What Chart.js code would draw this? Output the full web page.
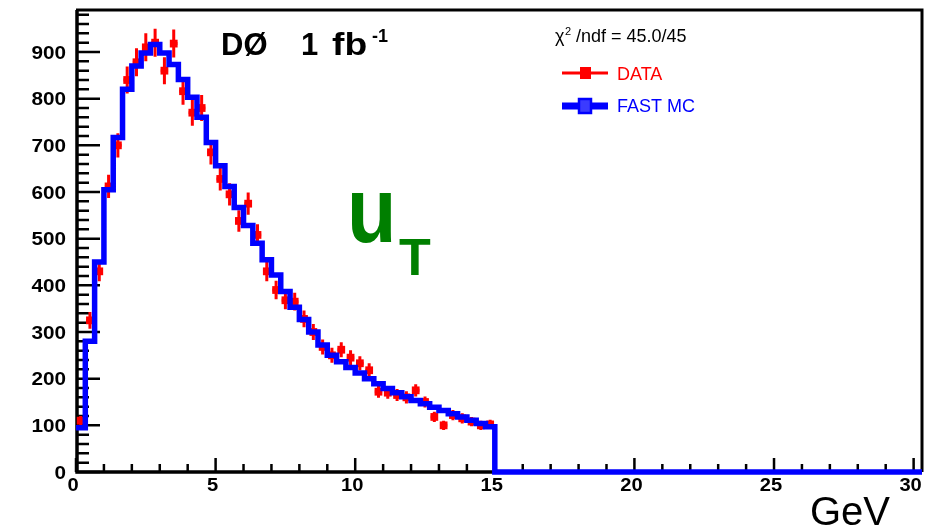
<!DOCTYPE html>
<html>
<head>
<meta charset="utf-8">
<script src="https://cdn.jsdelivr.net/npm/chart.js@4"></script>
<style>
	body { margin: 0; background: #fff; }
	#wrap { width: 935px; height: 529px; }
</style>
</head>
<body>
<div id="wrap"><canvas id="chart" width="935" height="529"></canvas></div>
<script>
// histogram binning: 45 bins of 1/3 GeV from 0 to 15 GeV
const binWidth = 1 / 3;
const histEnd = 15;

// FAST MC prediction, one value per bin
const mcCounts = [95, 280, 450, 605, 717, 820, 870, 898, 916, 898, 873, 841, 803, 760, 706,
	656, 612, 567, 528, 490, 455, 422, 387, 353, 327, 300, 272, 250, 236, 224,
	212, 200, 189, 179, 170, 161, 153, 146, 139, 132, 125, 118, 111, 104, 97];

// DATA, one value per bin, with its error bar half-length
const dataCounts = [110, 325, 430, 612, 700, 840, 878, 910, 920, 860, 918, 816, 770, 780, 685,
	628, 595, 538, 575, 508, 430, 390, 368, 365, 328, 300, 268, 250, 262, 245,
	233, 218, 172, 170, 165, 160, 175, 150, 118, 100, 122, 115, 108, 100, 102];
const dataErrors = [10, 18, 21, 25, 26, 29, 30, 30, 30, 29, 30, 29, 28, 28, 26,
	25, 24, 23, 24, 23, 21, 20, 19, 19, 18, 17, 16, 16, 16, 16,
	15, 15, 13, 13, 13, 13, 13, 12, 11, 10, 11, 11, 10, 10, 10];

const xRange = [0, 30.3];
const yRange = [0, 990];
const xTicks = [0, 5, 10, 15, 20, 25, 30];
const yTicks = [0, 100, 200, 300, 400, 500, 600, 700, 800, 900];
const xMinorStep = 1;
const yMinorStep = 20;

const seriesNames = ['DATA', 'FAST MC'];
const fitLabel = ['χ', '2', '/ndf = 45.0/45'];
const titleParts = ['DØ', '1', 'fb', '-1'];
const varParts = ['u', 'T'];
const xTitle = 'GeV';

const RED = '#ff0000';
const BLUE = '#0000ff';
const GREEN = '#007f00';
const FONT = '"Liberation Sans", Arial, Helvetica, sans-serif';

function drawText(ctx, str, x, y, font, color, align, sx) {
	ctx.save();
	ctx.font = font;
	ctx.fillStyle = color;
	ctx.textAlign = align || 'left';
	ctx.textBaseline = 'alphabetic';
	ctx.translate(x, y);
	ctx.scale(sx || 1, 1);
	ctx.fillText(str, 0, 0);
	ctx.restore();
}

// frame, inward ticks and error bars (under the datasets)
const axisFrame = {
	id: 'axisFrame',
	beforeDatasetsDraw(chart) {
		const { ctx, chartArea: a, scales: { x, y } } = chart;
		ctx.save();
		ctx.strokeStyle = '#000';
		ctx.lineWidth = 2.5;
		ctx.beginPath();
		for (let v = yRange[0]; v < yRange[1]; v += yMinorStep) {
			const py = y.getPixelForValue(v);
			const len = yTicks.includes(v) ? 24 : 13;
			ctx.moveTo(a.left, py);
			ctx.lineTo(a.left + len, py);
		}
		for (let v = 0; v <= 30; v += xMinorStep) {
			const px = x.getPixelForValue(v);
			const len = xTicks.includes(v) ? 14 : 8;
			ctx.moveTo(px, a.bottom);
			ctx.lineTo(px, a.bottom - len);
		}
		ctx.stroke();

		ctx.lineWidth = 3.5;
		ctx.beginPath();
		ctx.moveTo(a.left + 1, a.top);
		ctx.lineTo(a.left + 1, a.bottom);
		ctx.lineTo(a.right, a.bottom);
		ctx.stroke();
		ctx.lineWidth = 3;
		ctx.beginPath();
		ctx.moveTo(a.left, a.top);
		ctx.lineTo(a.right, a.top);
		ctx.lineTo(a.right, a.bottom);
		ctx.stroke();

		// DATA error bars
		ctx.strokeStyle = RED;
		ctx.lineWidth = 3;
		ctx.beginPath();
		dataCounts.forEach((v, i) => {
			const xc = x.getPixelForValue((i + 0.5) * binWidth);
			const x0 = x.getPixelForValue(i * binWidth);
			const x1 = x.getPixelForValue((i + 1) * binWidth);
			ctx.moveTo(xc, y.getPixelForValue(v - dataErrors[i]));
			ctx.lineTo(xc, y.getPixelForValue(v + dataErrors[i]));
			ctx.moveTo(x0 + 1, y.getPixelForValue(v));
			ctx.lineTo(x1 - 1, y.getPixelForValue(v));
		});
		ctx.stroke();
		ctx.restore();
	}
};

// tick labels, titles and legend
const annotations = {
	id: 'annotations',
	afterDraw(chart) {
		const { ctx, scales: { x, y } } = chart;
		const tickFont = 'bold 18px ' + FONT;
		yTicks.forEach(v => {
			drawText(ctx, String(v), 66, y.getPixelForValue(v) + 6.5, tickFont, '#000', 'right', 1.15);
		});
		xTicks.forEach(v => {
			drawText(ctx, String(v), x.getPixelForValue(v) - 3, 491, tickFont, '#000', 'center', 1.12);
		});
		drawText(ctx, xTitle, 810, 525, '40px ' + FONT, '#000', 'left');

		// experiment label
		drawText(ctx, titleParts[0], 221, 55, 'bold 31px ' + FONT, '#000');
		drawText(ctx, titleParts[1], 301, 55, 'bold 31px ' + FONT, '#000');
		drawText(ctx, titleParts[2], 332, 55, 'bold 31px ' + FONT, '#000', 'left', 1.2);
		drawText(ctx, titleParts[3], 372, 42, 'bold 18px ' + FONT, '#000');

		// variable name
		drawText(ctx, varParts[0], 347, 242, 'bold 92px ' + FONT, GREEN, 'left', 0.88);
		drawText(ctx, varParts[1], 399, 275, 'bold 52px ' + FONT, GREEN);

		// fit result
		drawText(ctx, fitLabel[0], 555, 42, '18px ' + FONT, '#000');
		drawText(ctx, fitLabel[1], 565, 35, '11px ' + FONT, '#000');
		drawText(ctx, fitLabel[2], 576, 42, '18px ' + FONT, '#000');

		// legend
		ctx.save();
		ctx.strokeStyle = RED;
		ctx.lineWidth = 3;
		ctx.beginPath();
		ctx.moveTo(562, 73);
		ctx.lineTo(608, 73);
		ctx.stroke();
		ctx.fillStyle = RED;
		ctx.fillRect(580, 67, 11, 12);
		ctx.strokeStyle = BLUE;
		ctx.lineWidth = 7;
		ctx.beginPath();
		ctx.moveTo(562, 106);
		ctx.lineTo(608, 106);
		ctx.stroke();
		ctx.fillStyle = '#3b3bff';
		ctx.fillRect(578, 98, 14, 16);
		ctx.lineWidth = 2.5;
		ctx.strokeRect(579, 99, 12, 14);
		ctx.restore();
		drawText(ctx, seriesNames[0], 617, 80, '18px ' + FONT, RED);
		drawText(ctx, seriesNames[1], 617, 112, '18px ' + FONT, BLUE);
	}
};

const mcPoints = mcCounts.map((v, i) => ({ x: i * binWidth, y: v }));
mcPoints.push({ x: histEnd, y: 0 }, { x: xRange[1], y: 0 });
const dataPoints = dataCounts.map((v, i) => ({ x: (i + 0.5) * binWidth, y: v }));

document.addEventListener("DOMContentLoaded", function () {
	const ctx = document.querySelector("#chart").getContext("2d");

	const config = {
		type: 'line',
		data: {
			datasets: [{
				label: seriesNames[1],
				data: mcPoints,
				borderColor: BLUE,
				borderWidth: 5.5,
				borderJoinStyle: 'miter',
				pointRadius: 0,
				stepped: 'before',
				fill: false,
				clip: 8,
				order: 0
			}, {
				label: seriesNames[0],
				data: dataPoints,
				showLine: false,
				pointStyle: 'rect',
				pointRadius: 5.5,
				borderWidth: 0,
				backgroundColor: RED,
				borderColor: RED,
				order: 1
			}]
		},
		plugins: [axisFrame, annotations],
		options: {
			responsive: false,
			animation: false,
			devicePixelRatio: 1,
			events: [],
			layout: { padding: { top: 10, right: 13, left: 0, bottom: 0 } },
			plugins: {
				legend: { display: false },
				tooltip: { enabled: false }
			},
			scales: {
				x: {
					type: 'linear',
					min: xRange[0],
					max: xRange[1],
					ticks: { display: false },
					grid: { display: false, drawTicks: false },
					border: { display: false },
					afterFit(scale) { scale.height = 57; }
				},
				y: {
					type: 'linear',
					min: yRange[0],
					max: yRange[1],
					ticks: { display: false },
					grid: { display: false, drawTicks: false },
					border: { display: false },
					afterFit(scale) { scale.width = 76; }
				}
			}
		}
	};

	new Chart(ctx, config);
});
</script>
</body>
</html>
